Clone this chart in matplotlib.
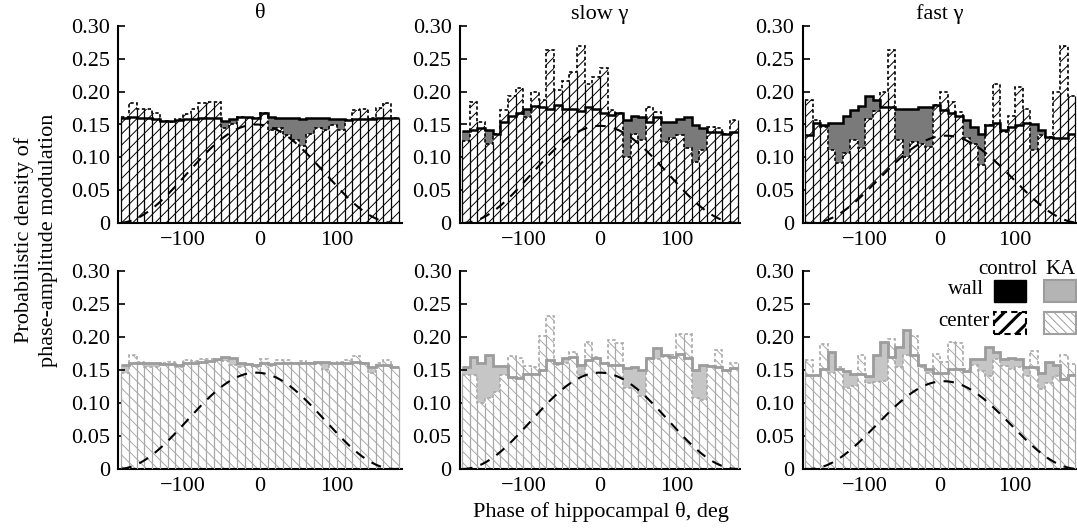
import numpy as np
import matplotlib
matplotlib.use("Agg")
import matplotlib.pyplot as plt
from matplotlib.patches import Rectangle

plt.rcParams['font.family'] = ['Liberation Serif', 'DejaVu Serif']
plt.rcParams['hatch.linewidth'] = 0.7

# ==========================================
# Data: 36 phase bins of 10 deg, -180..180
# ==========================================
edges = np.arange(-180, 181, 10)

# top row = control, bottom row = KA; columns theta, slow gamma, fast gamma
wall_ctrl_theta = [0.160, 0.161, 0.160, 0.160, 0.159, 0.156, 0.156, 0.157, 0.159, 0.159, 0.160, 0.160,
                   0.160, 0.156, 0.159, 0.162, 0.162, 0.160, 0.168, 0.162, 0.160, 0.160, 0.160, 0.159,
                   0.160, 0.160, 0.160, 0.159, 0.158, 0.157, 0.158, 0.159, 0.159, 0.160, 0.160, 0.160]
center_ctrl_theta = [0.162, 0.182, 0.173, 0.174, 0.167, 0.156, 0.154, 0.159, 0.166, 0.173, 0.183, 0.184,
                     0.184, 0.144, 0.151, 0.162, 0.160, 0.160, 0.167, 0.141, 0.144, 0.134, 0.126, 0.118,
                     0.136, 0.145, 0.142, 0.149, 0.142, 0.157, 0.172, 0.173, 0.160, 0.175, 0.183, 0.160]

wall_ctrl_slow = [0.140, 0.141, 0.144, 0.141, 0.135, 0.154, 0.163, 0.167, 0.174, 0.178, 0.176, 0.174,
                  0.179, 0.173, 0.173, 0.171, 0.176, 0.173, 0.167, 0.165, 0.167, 0.157, 0.163, 0.162,
                  0.154, 0.161, 0.154, 0.154, 0.158, 0.161, 0.149, 0.144, 0.139, 0.139, 0.136, 0.139]
center_ctrl_slow = [0.125, 0.185, 0.154, 0.120, 0.136, 0.172, 0.194, 0.206, 0.161, 0.199, 0.187, 0.263,
                    0.203, 0.217, 0.230, 0.270, 0.212, 0.223, 0.236, 0.172, 0.167, 0.101, 0.136, 0.126,
                    0.176, 0.169, 0.124, 0.129, 0.134, 0.114, 0.093, 0.111, 0.146, 0.144, 0.136, 0.157]

wall_ctrl_fast = [0.134, 0.152, 0.149, 0.153, 0.153, 0.163, 0.172, 0.178, 0.193, 0.188, 0.176, 0.177,
                  0.174, 0.173, 0.174, 0.176, 0.176, 0.179, 0.172, 0.167, 0.163, 0.157, 0.146, 0.136,
                  0.149, 0.152, 0.141, 0.146, 0.149, 0.152, 0.150, 0.141, 0.131, 0.129, 0.129, 0.136]
center_ctrl_fast = [0.187, 0.157, 0.146, 0.111, 0.092, 0.107, 0.126, 0.114, 0.159, 0.171, 0.199, 0.264,
                    0.127, 0.101, 0.124, 0.121, 0.116, 0.179, 0.199, 0.184, 0.169, 0.129, 0.121, 0.088,
                    0.149, 0.211, 0.139, 0.163, 0.207, 0.174, 0.111, 0.134, 0.131, 0.199, 0.270, 0.194]

wall_ka_theta = [0.158, 0.160, 0.160, 0.160, 0.160, 0.159, 0.159, 0.158, 0.160, 0.161, 0.162, 0.163,
                 0.166, 0.169, 0.168, 0.160, 0.159, 0.158, 0.160, 0.159, 0.160, 0.160, 0.160, 0.160,
                 0.161, 0.162, 0.162, 0.160, 0.160, 0.161, 0.162, 0.160, 0.155, 0.157, 0.158, 0.155]
center_ka_theta = [0.145, 0.172, 0.162, 0.155, 0.154, 0.160, 0.162, 0.154, 0.165, 0.164, 0.166, 0.167,
                   0.164, 0.163, 0.158, 0.155, 0.159, 0.155, 0.166, 0.156, 0.165, 0.165, 0.161, 0.163,
                   0.160, 0.159, 0.150, 0.161, 0.162, 0.165, 0.171, 0.161, 0.145, 0.161, 0.165, 0.155]

wall_ka_slow = [0.155, 0.169, 0.160, 0.173, 0.156, 0.156, 0.140, 0.138, 0.144, 0.144, 0.150, 0.165,
                0.161, 0.168, 0.170, 0.158, 0.165, 0.168, 0.161, 0.158, 0.158, 0.153, 0.154, 0.150,
                0.168, 0.183, 0.173, 0.170, 0.174, 0.168, 0.150, 0.158, 0.156, 0.155, 0.150, 0.153]
center_ka_slow = [0.143, 0.143, 0.100, 0.107, 0.116, 0.143, 0.171, 0.168, 0.156, 0.154, 0.202, 0.232,
                  0.158, 0.160, 0.178, 0.143, 0.193, 0.170, 0.160, 0.195, 0.191, 0.122, 0.122, 0.110,
                  0.168, 0.166, 0.170, 0.173, 0.205, 0.205, 0.107, 0.105, 0.156, 0.181, 0.150, 0.161]

wall_ka_fast = [0.142, 0.142, 0.152, 0.177, 0.151, 0.149, 0.144, 0.144, 0.141, 0.172, 0.192, 0.169,
                0.185, 0.210, 0.172, 0.157, 0.151, 0.146, 0.146, 0.151, 0.151, 0.149, 0.167, 0.167,
                0.185, 0.177, 0.166, 0.168, 0.167, 0.154, 0.154, 0.146, 0.162, 0.157, 0.136, 0.142]
center_ka_fast = [0.165, 0.141, 0.190, 0.146, 0.154, 0.123, 0.126, 0.172, 0.131, 0.132, 0.133, 0.197,
                  0.154, 0.172, 0.202, 0.154, 0.146, 0.174, 0.162, 0.192, 0.191, 0.152, 0.157, 0.149,
                  0.141, 0.167, 0.156, 0.151, 0.154, 0.141, 0.179, 0.121, 0.131, 0.141, 0.172, 0.159]

# reference theta wave (schematic cosine), peak height and phase shift per panel
theta_peak = [[0.150, 0.148, 0.133], [0.146, 0.146, 0.133]]
theta_shift = [[-5, 0, 8], [-5, 0, 5]]

titles = ["θ", "slow γ", "fast γ"]

# ==========================================
# Styles
# ==========================================
styles = {
    "control": dict(fill="#7a7a7a", wall_line="black", edge="black", hatch="///", wall_lw=1.8),
    "KA": dict(fill="#c6c6c6", wall_line="#9c9c9c", edge="#a8a8a8", hatch="\\\\\\", wall_lw=2.0),
}

W, H = 1077, 529
fig = plt.figure(figsize=(W / 100, H / 100), dpi=100)

# axes boxes in pixels: (left, right, xlim)
cols = [(118.3, 401.7, (-184, 184)), (459.9, 739.9, (-183, 183)), (802.8, 1076.5, (-183, 182))]
rows = [(26, 223), (271, 469)]


def draw_panel(ax, wall, center, st, peak, shift):
    wall = np.array(wall)
    center = np.array(center)
    ax.stairs(wall, edges, baseline=0, fill=True, color=st["fill"], lw=0, zorder=1)
    ax.bar(edges[:-1] + 5, center, width=10, facecolor="white", edgecolor=st["edge"],
           linewidth=0, hatch=st["hatch"], zorder=2)
    tops = np.concatenate([[center[0]], np.minimum(center[:-1], center[1:]), [center[-1]]])
    ax.vlines(edges, 0, tops, color=st["edge"], lw=0.9, zorder=3)
    ax.stairs(center, edges, baseline=None, color=st["edge"], lw=1.2,
              linestyle=(0, (2.0, 1.5)), zorder=3)
    ax.stairs(wall, edges, baseline=None, color=st["wall_line"], lw=st["wall_lw"], zorder=4)
    x = np.linspace(-180, 180, 361)
    y = peak * (1 + np.cos(np.radians(x - shift))) / 2
    ax.plot(x, y, color="black", lw=1.5, linestyle=(0, (5, 4)), zorder=5)

    ax.set_ylim(0, 0.30)
    ax.set_yticks([0, 0.05, 0.10, 0.15, 0.20, 0.25, 0.30])
    ax.set_yticklabels(["0", "0.05", "0.10", "0.15", "0.20", "0.25", "0.30"])
    ax.set_xticks([-100, 0, 100])
    ax.set_xticklabels(["\u2212100", "0", "100"])
    ax.set_xticks([-150, -50, 50, 150], minor=True)
    ax.tick_params(which="both", direction="in", length=5, width=1.2, labelsize=16, pad=6)
    for s in ["top", "right"]:
        ax.spines[s].set_visible(False)
    for s in ["left", "bottom"]:
        ax.spines[s].set_linewidth(1.5)


data = [
    [(wall_ctrl_theta, center_ctrl_theta), (wall_ctrl_slow, center_ctrl_slow), (wall_ctrl_fast, center_ctrl_fast)],
    [(wall_ka_theta, center_ka_theta), (wall_ka_slow, center_ka_slow), (wall_ka_fast, center_ka_fast)],
]

for r, (ytop, ybot) in enumerate(rows):
    st = styles["control"] if r == 0 else styles["KA"]
    for c, (xl, xr, xlim) in enumerate(cols):
        ax = fig.add_axes([xl / W, 1 - ybot / H, (xr - xl) / W, (ybot - ytop) / H])
        ax.set_xlim(*xlim)
        wall, center = data[r][c]
        draw_panel(ax, wall, center, st, theta_peak[r][c], theta_shift[r][c])

# titles
for c, (xl, xr, xlim) in enumerate(cols):
    x0 = xl + (0 - xlim[0]) / (xlim[1] - xlim[0]) * (xr - xl)
    fig.text(x0 / W, 1 - 14 / H, titles[c], ha="center", va="center", fontsize=16)

fig.text(36 / W, 1 - 240 / H, "Probabilistic density of\nphase-amplitude modulation",
         rotation=90, ha="center", va="center", fontsize=16, linespacing=1.35)
fig.text(601 / W, 1 - 512 / H, "Phase of hippocampal θ, deg", ha="center", va="center", fontsize=16)

# legend
fig.text(1008 / W, 1 - 269 / H, "control", ha="center", va="center", fontsize=15)
fig.text(1061 / W, 1 - 269 / H, "KA", ha="center", va="center", fontsize=15)
fig.text(984 / W, 1 - 290 / H, "wall", ha="right", va="center", fontsize=15)
fig.text(990 / W, 1 - 322 / H, "center", ha="right", va="center", fontsize=15)


def swatch(x0, y0, **kw):
    rect = Rectangle((x0 / W, 1 - (y0 + 22) / H), 32 / W, 22 / H, transform=fig.transFigure, **kw)
    fig.add_artist(rect)


swatch(994, 280, facecolor="black", edgecolor="black", lw=1)
swatch(1044, 280, facecolor="#b4b4b4", edgecolor="#9c9c9c", lw=1.5)
with plt.rc_context({"hatch.linewidth": 2.2}):
    swatch(994, 312, facecolor="white", edgecolor="black", hatch="//", lw=1.5, linestyle=(0, (3, 2)))
swatch(1044, 312, facecolor="white", edgecolor="#a0a0a0", hatch="\\\\\\\\", lw=1.5)

fig.savefig("out.png", dpi=100)
